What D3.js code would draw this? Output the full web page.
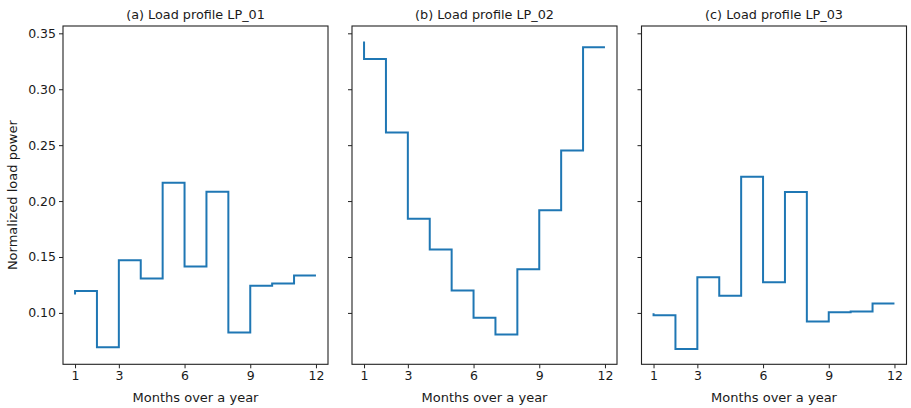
<!DOCTYPE html>
<html>
<head>
<meta charset="utf-8">
<script src="https://cdn.jsdelivr.net/npm/d3@7"></script>
<style>
  html, body { margin: 0; padding: 0; background: #fff; }
  svg { display: block; }
  text { font-family: "DejaVu Sans", sans-serif; fill: #1a1a1a; }
</style>
</head>
<body>
<svg id="chart" width="911" height="408"></svg>
<script>
// Months on the x axis
const months = [1, 2, 3, 4, 5, 6, 7, 8, 9, 10, 11, 12];
const xTicks = [1, 3, 6, 9, 12];
const yTicks = [0.10, 0.15, 0.20, 0.25, 0.30, 0.35];

// Normalized monthly load power for each profile (step drawn "pre")
const lp01 = [0.1165, 0.1197, 0.0693, 0.1472, 0.1307, 0.2164, 0.1415, 0.2083, 0.0824, 0.1242, 0.1263, 0.1334];
const lp02 = [0.3428, 0.3271, 0.2614, 0.1842, 0.1567, 0.1200, 0.0956, 0.0806, 0.1391, 0.1919, 0.2453, 0.3375];
const lp03 = [0.0998, 0.0980, 0.0678, 0.1320, 0.1153, 0.2218, 0.1275, 0.2081, 0.0923, 0.1007, 0.1012, 0.1084];

const titles = ["(a) Load profile LP_01", "(b) Load profile LP_02", "(c) Load profile LP_03"];
const profiles = [lp01, lp02, lp03];

const svg = d3.select("#chart");
const plotTop = 26, plotBottom = 364.3;
const panelLeft = [63, 352, 641.5];
const panelWidth = 265;

// Shared y range with a 5% margin around all data
const all = profiles.flat();
const lo = d3.min(all), hi = d3.max(all);
const pad = (hi - lo) * 0.05;
const y = d3.scaleLinear().domain([lo - pad, hi + pad]).range([plotBottom, plotTop]);

profiles.forEach((vals, i) => {
  const x0 = panelLeft[i];
  const x = d3.scaleLinear().domain([1 - 0.55, 12 + 0.55]).range([x0, x0 + panelWidth]);
  const g = svg.append("g");

  // x axis
  const xa = g.append("g")
    .attr("transform", `translate(0,${plotBottom})`)
    .call(d3.axisBottom(x).tickValues(xTicks).tickFormat(d3.format("d")).tickSize(4).tickPadding(3));
  xa.select(".domain").remove();
  xa.selectAll("line").attr("stroke", "#222");
  xa.selectAll("text").attr("font-size", 12.5).attr("fill", "#1a1a1a");

  // y axis (labels only on the first panel)
  const ya = g.append("g")
    .attr("transform", `translate(${x0},0)`)
    .call(d3.axisLeft(y).tickValues(yTicks).tickFormat(i === 0 ? d3.format(".2f") : () => "").tickSize(4).tickPadding(3));
  ya.select(".domain").remove();
  ya.selectAll("line").attr("stroke", "#222");
  ya.selectAll("text").attr("font-size", 12.5).attr("fill", "#1a1a1a");

  // step line
  const line = d3.line()
    .x((d, k) => x(months[k]))
    .y(d => y(d))
    .curve(d3.curveStepBefore);
  g.append("path")
    .datum(vals)
    .attr("d", line)
    .attr("fill", "none")
    .attr("stroke", "#1f77b4")
    .attr("stroke-width", 2);

  // frame
  g.append("rect")
    .attr("x", x0).attr("y", plotTop)
    .attr("width", panelWidth).attr("height", plotBottom - plotTop)
    .attr("fill", "none").attr("stroke", "#222").attr("stroke-width", 1.1);

  // title
  g.append("text")
    .attr("x", x0 + panelWidth / 2).attr("y", 19)
    .attr("text-anchor", "middle").attr("font-size", 12.8)
    .text(titles[i]);

  // x label
  g.append("text")
    .attr("x", x0 + panelWidth / 2).attr("y", 402)
    .attr("text-anchor", "middle").attr("font-size", 13)
    .text("Months over a year");
});

// y label
svg.append("text")
  .attr("transform", `translate(17,${(plotTop + plotBottom) / 2}) rotate(-90)`)
  .attr("text-anchor", "middle").attr("font-size", 13)
  .text("Normalized load power");
</script>
</body>
</html>
